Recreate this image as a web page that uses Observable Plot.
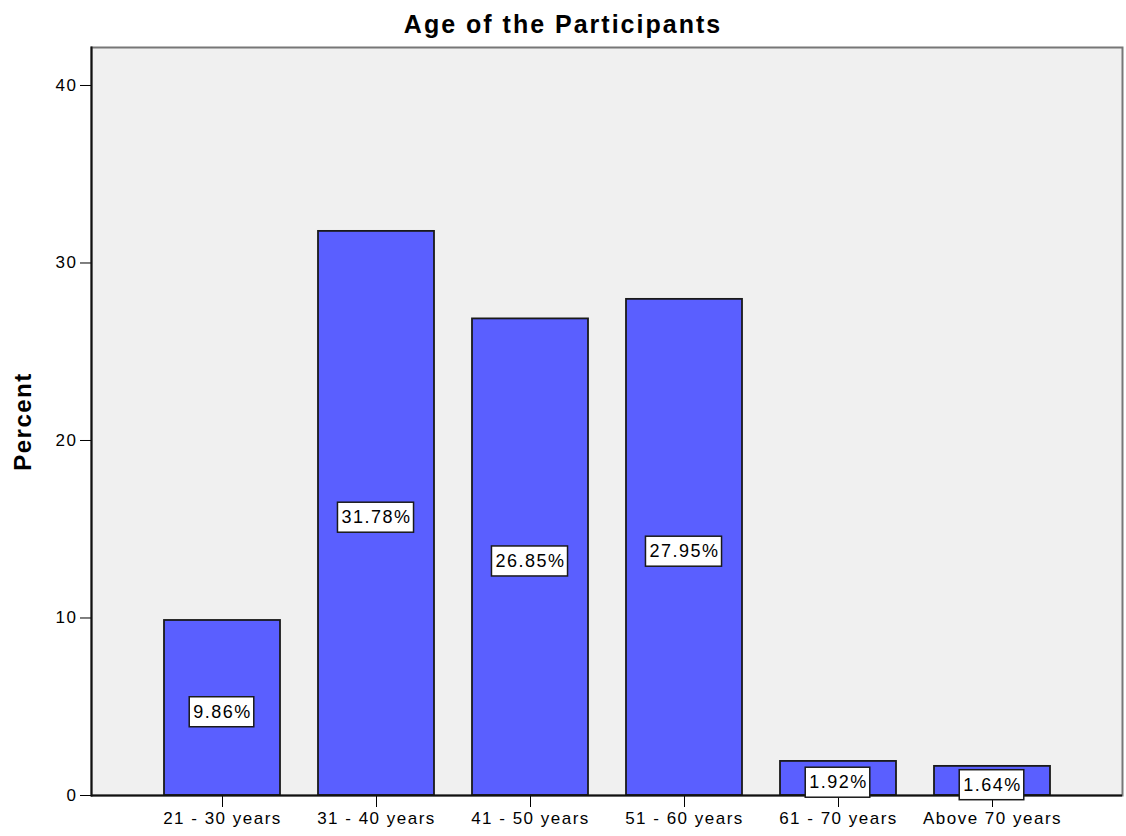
<!DOCTYPE html>
<html>
<head>
<meta charset="utf-8">
<script src="https://cdn.jsdelivr.net/npm/d3@7"></script>
<script src="https://cdn.jsdelivr.net/npm/@observablehq/plot@0.6"></script>
<style>
  html, body { margin: 0; padding: 0; background: #ffffff; }
  #chart { width: 1126px; font-family: "Liberation Sans", Arial, sans-serif; }
  #title { height: 36px; line-height: 48px; text-align: center; font-weight: bold; font-size: 25px; letter-spacing: 2px; color: #000; }
  #chart svg text { letter-spacing: 1.5px; }
</style>
</head>
<body>
<div id="chart">
  <div id="title">Age of the Participants</div>
</div>
<script>
const categories = ["21 - 30 years", "31 - 40 years", "41 - 50 years", "51 - 60 years", "61 - 70 years", "Above 70 years"];
const percents = [9.86, 31.78, 26.85, 27.95, 1.92, 1.64];
const yTicks = [0, 10, 20, 30, 40];
const yLabel = "Percent";

const data = categories.map((c, i) => ({category: c, value: percents[i]}));

const plot = Plot.plot({
  width: 1126,
  height: 800,
  marginLeft: 91,
  marginRight: 4,
  marginTop: 11,
  marginBottom: 41,
  style: {fontFamily: "'Liberation Sans', Arial, sans-serif", fontSize: "17px", background: "#ffffff", color: "#000"},
  x: {type: "band", domain: categories, padding: 0.25, insetLeft: 32, insetRight: 32, label: null},
  y: {domain: [0, 42.14], ticks: yTicks, label: null},
  marks: [
    Plot.frame({fill: "#f0f0f0", stroke: "#777777", strokeWidth: 2}),
    Plot.barY(data, {x: "category", y: "value", fill: "#5a5fff", stroke: "#1a1a1a", strokeWidth: 1.8}),
    Plot.axisY({ticks: yTicks, tickSize: 11, tickPadding: 3, label: null, fontSize: 17}),
    Plot.axisX({tickSize: 12, tickPadding: 4, label: null, fontSize: 17}),
    Plot.ruleY([0], {stroke: "#111", strokeWidth: 2}),
    Plot.frame({anchor: "left", stroke: "#111", strokeWidth: 2}),
    Plot.text(data, {x: "category", y: d => d.value / 2, dy: 4, text: d => d.value.toFixed(2) + "%", fill: "#000", fontSize: 18}),
    Plot.text([yLabel], {frameAnchor: "left", textAnchor: "middle", dx: -68, rotate: -90, fontWeight: "bold", fontSize: 24, fill: "#000"})
  ]
});

document.getElementById("chart").appendChild(plot);

// white boxes behind value labels, sized from each label's rendered text
const ns = "http://www.w3.org/2000/svg";
Array.from(plot.querySelectorAll("text"))
  .filter(t => /%$/.test(t.textContent.trim()))
  .forEach(t => {
    const b = t.getBBox();
    const r = document.createElementNS(ns, "rect");
    r.setAttribute("x", b.x - 4);
    r.setAttribute("y", b.y - 5);
    r.setAttribute("width", b.width + 6);
    r.setAttribute("height", b.height + 10);
    r.setAttribute("fill", "#ffffff");
    r.setAttribute("stroke", "#1a1a1a");
    r.setAttribute("stroke-width", "1.5");
    if (t.getAttribute("transform")) r.setAttribute("transform", t.getAttribute("transform"));
    t.parentNode.insertBefore(r, t);
  });
</script>
</body>
</html>
